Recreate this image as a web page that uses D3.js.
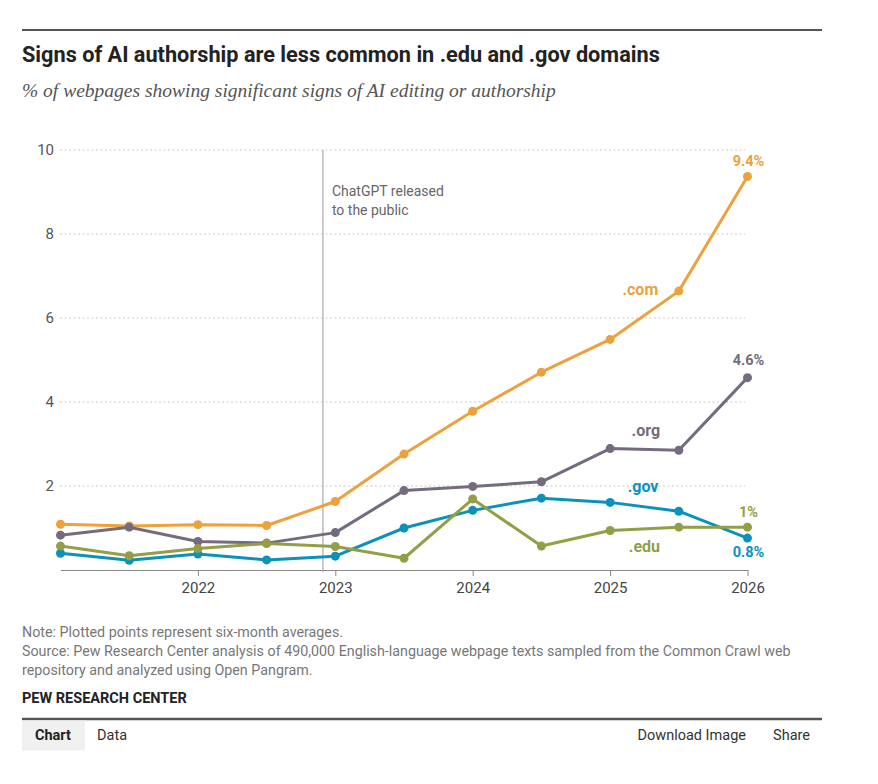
<!DOCTYPE html>
<html>
<head>
<meta charset="utf-8">
<script src="https://cdn.jsdelivr.net/npm/d3@7"></script>
<style>
  body { margin: 0; background: #fff; }
  text { font-family: Roboto, "Liberation Sans", sans-serif; }
</style>
</head>
<body>
<div id="chart"></div>
<script>
// six-month periods, plotted as decimal years
const periods = [2021, 2021.5, 2022, 2022.5, 2023, 2023.5, 2024, 2024.5, 2025, 2025.5, 2026];

const comValues = [1.09, 1.05, 1.08, 1.06, 1.63, 2.76, 3.78, 4.71, 5.49, 6.64, 9.37];
const orgValues = [0.83, 1.02, 0.68, 0.64, 0.89, 1.89, 1.99, 2.10, 2.89, 2.85, 4.58];
const govValues = [0.40, 0.23, 0.38, 0.24, 0.33, 1.00, 1.42, 1.71, 1.61, 1.40, 0.76];
const eduValues = [0.57, 0.34, 0.51, 0.63, 0.56, 0.28, 1.69, 0.57, 0.94, 1.02, 1.02];

const seriesNames = [".com", ".org", ".gov", ".edu"];
const endLabels = ["9.4%", "4.6%", "0.8%", "1%"];

const xTicks = [2022, 2023, 2024, 2025, 2026];
const yTicks = [2, 4, 6, 8, 10];

const chatgptDate = 2022.91;

const colors = {
  ".com": "#eca13c",
  ".org": "#756b7f",
  ".gov": "#0a92bd",
  ".edu": "#929f46"
};

const allValues = [comValues, orgValues, govValues, eduValues];
const series = seriesNames.map((name, i) => ({
  name: name,
  end: endLabels[i],
  values: periods.map((p, j) => ({ x: p, y: allValues[i][j] }))
}));

///////////////////////////////////////////////////////////////////////////
////////////////////////////// Setup //////////////////////////////////////
///////////////////////////////////////////////////////////////////////////

let width = 878, height = 784;

let svg = d3.select("#chart").append("svg")
  .attr("width", width)
  .attr("height", height);

let x = d3.scaleLinear().domain([2021, 2026]).range([60.5, 747.5]);
let y = d3.scaleLinear().domain([0, 10]).range([570, 150]);

//shrink/grow a text's font so it spans a given width (fonts differ from the original)
function fitWidth(sel, target) {
  let size = +sel.attr("font-size");
  let len = sel.node().getComputedTextLength();
  if (len > 0) sel.attr("font-size", (size * target / len).toFixed(2));
}

// top rule
svg.append("line")
  .attr("x1", 22).attr("x2", 822).attr("y1", 30).attr("y2", 30)
  .attr("stroke", "#555").attr("stroke-width", 2);

svg.append("text")
  .attr("x", 22).attr("y", 62)
  .attr("font-size", 20).attr("font-weight", "bold")
  .attr("fill", "#222")
  .text("Signs of AI authorship are less common in .edu and .gov domains")
  .call(fitWidth, 638);

svg.append("text")
  .attr("x", 22).attr("y", 97)
  .attr("font-size", 17).attr("font-style", "italic")
  .attr("fill", "#555")
  .style("font-family", "'Liberation Serif', 'DejaVu Serif', serif")
  .text("% of webpages showing significant signs of AI editing or authorship")
  .call(fitWidth, 534);

///////////////////////////////////////////////////////////////////////////
////////////////////////////// Axes ///////////////////////////////////////
///////////////////////////////////////////////////////////////////////////

//gridlines
svg.append("g")
  .selectAll("line")
  .data(yTicks)
  .enter().append("line")
  .attr("x1", 60).attr("x2", 745)
  .attr("y1", d => y(d)).attr("y2", d => y(d))
  .attr("stroke", "#c8c8c8")
  .attr("stroke-width", 1)
  .attr("stroke-dasharray", "2,2.5");

svg.append("g")
  .selectAll("text")
  .data(yTicks)
  .enter().append("text")
  .attr("x", 54).attr("y", d => y(d) + 5)
  .attr("text-anchor", "end")
  .attr("font-size", 15)
  .attr("fill", "#555")
  .text(d => d);

let xAxis = svg.append("g")
  .attr("transform", "translate(0," + y(0) + ")")
  .call(d3.axisBottom(x).tickValues(xTicks).tickFormat(d3.format("d")).tickSize(6).tickSizeOuter(0));
xAxis.select(".domain").attr("stroke", "#888");
xAxis.selectAll(".tick line").attr("stroke", "#888");
xAxis.selectAll(".tick text")
  .attr("font-size", 15)
  .attr("fill", "#444")
  .attr("dy", "0.95em")
  .style("font-family", "Roboto, 'Liberation Sans', sans-serif");

// ChatGPT marker
svg.append("line")
  .attr("x1", x(chatgptDate)).attr("x2", x(chatgptDate))
  .attr("y1", y(10)).attr("y2", y(0) + 2)
  .attr("stroke", "#aaa").attr("stroke-width", 1.2);

svg.append("text")
  .attr("x", x(chatgptDate) + 9).attr("y", 196)
  .attr("font-size", 14).attr("fill", "#666")
  .selectAll("tspan")
  .data(["ChatGPT released", "to the public"])
  .enter().append("tspan")
  .attr("x", x(chatgptDate) + 9)
  .attr("dy", (d, i) => i ? 18.5 : 0)
  .text(d => d);

///////////////////////////////////////////////////////////////////////////
////////////////////////////// Lines //////////////////////////////////////
///////////////////////////////////////////////////////////////////////////

let line = d3.line().x(d => x(d.x)).y(d => y(d.y));

let groups = svg.append("g")
  .selectAll(".series")
  .data(series)
  .enter().append("g")
  .attr("class", "series");

groups.append("path")
  .attr("d", d => line(d.values))
  .attr("fill", "none")
  .attr("stroke", d => colors[d.name])
  .attr("stroke-width", 3)
  .attr("stroke-linejoin", "round");

groups.selectAll("circle")
  .data(d => d.values.map(v => ({ ...v, name: d.name })))
  .enter().append("circle")
  .attr("cx", d => x(d.x))
  .attr("cy", d => y(d.y))
  .attr("r", 4.5)
  .attr("fill", d => colors[d.name]);

// series labels, placed in data units
const nameSpots = {
  ".com": [2025.22, 6.67],
  ".org": [2025.26, 3.31],
  ".gov": [2025.24, 1.98],
  ".edu": [2025.25, 0.55]
};
// end label vertical offsets (px from last point, to baseline)
const endOffsets = { ".com": -10, ".org": -13, ".gov": 19, ".edu": -10 };

groups.append("text")
  .attr("x", d => x(nameSpots[d.name][0]))
  .attr("y", d => y(nameSpots[d.name][1]) + 5.5)
  .attr("text-anchor", "middle")
  .attr("font-size", 16).attr("font-weight", "bold")
  .attr("fill", d => colors[d.name])
  .text(d => d.name);

groups.append("text")
  .attr("x", d => x(d.values[d.values.length - 1].x) + 1)
  .attr("y", d => y(d.values[d.values.length - 1].y) + endOffsets[d.name])
  .attr("text-anchor", "middle")
  .attr("font-size", 14.5).attr("font-weight", "bold")
  .attr("fill", d => colors[d.name])
  .text(d => d.end);

///////////////////////////////////////////////////////////////////////////
////////////////////////////// Footer /////////////////////////////////////
///////////////////////////////////////////////////////////////////////////

const notes = [
  "Note: Plotted points represent six-month averages.",
  "Source: Pew Research Center analysis of 490,000 English-language webpage texts sampled from the Common Crawl web",
  "repository and analyzed using Open Pangram."
];

let noteText = svg.append("g")
  .selectAll("text")
  .data(notes)
  .enter().append("text")
  .attr("x", 22).attr("y", (d, i) => 637 + i * 19)
  .attr("font-size", 13.75).attr("fill", "#777")
  .text(d => d);

//size all note lines like the long source line, which spans to ~791px
let srcLine = d3.select(noteText.nodes()[1]).call(fitWidth, 769);
noteText.attr("font-size", Math.min(+srcLine.attr("font-size"), 14.5));

svg.append("text")
  .attr("x", 22).attr("y", 703)
  .attr("font-size", 14.5).attr("font-weight", "bold").attr("fill", "#222")
  .text("PEW RESEARCH CENTER");

svg.append("line")
  .attr("x1", 22).attr("x2", 822).attr("y1", 719).attr("y2", 719)
  .attr("stroke", "#555").attr("stroke-width", 2.5);

svg.append("rect")
  .attr("x", 22).attr("y", 720.5).attr("width", 63).attr("height", 30)
  .attr("fill", "#f0f0f0");

svg.append("text").attr("x", 35).attr("y", 740)
  .attr("font-size", 14.5).attr("font-weight", "bold").attr("fill", "#222")
  .text("Chart");
svg.append("text").attr("x", 97).attr("y", 740)
  .attr("font-size", 14.5).attr("fill", "#333")
  .text("Data");
svg.append("text").attr("x", 746).attr("y", 740)
  .attr("text-anchor", "end")
  .attr("font-size", 14.5).attr("fill", "#333")
  .text("Download Image");
svg.append("text").attr("x", 810).attr("y", 740)
  .attr("text-anchor", "end")
  .attr("font-size", 14.5).attr("fill", "#333")
  .text("Share");
</script>
</body>
</html>
